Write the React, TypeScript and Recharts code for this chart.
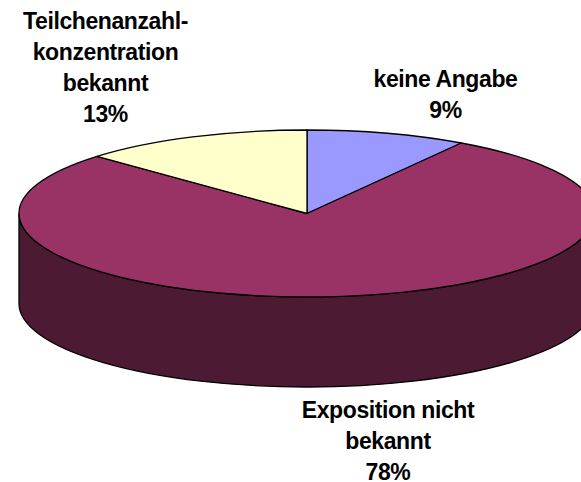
import { PieChart, Pie } from 'recharts'

const categories = ['keine Angabe', 'Exposition nicht bekannt', 'Teilchenanzahlkonzentration bekannt']
const shares = [9, 78, 13]
const topColors = ['#9999FF', '#993366', '#FFFFCC']
const labelLines = [
  ['keine Angabe', '9%'],
  ['Exposition nicht', 'bekannt', '78%'],
  ['Teilchenanzahl-', 'konzentration', 'bekannt', '13%'],
]

// where each label block sits: centre x, first baseline
const labelCenterX = [445.5, 388, 105.5]
const labelTopY = [87, 418, 29]
const LINE_GAP = 31

const SQUASH = 83.5 / 288
const DEPTH = 90
const SIDE_COLOR = '#4D1A33'

const data = categories.map((name, i) => ({ name, value: shares[i], fill: topColors[i] }))

const rad = (deg: number) => (deg * Math.PI) / 180

// pie sector flattened to an ellipse, with its wall where it faces the viewer
function TiltedSector(props: any) {
  const { cx, cy, outerRadius, startAngle, endAngle, fill } = props
  const rx = outerRadius
  const ry = outerRadius * SQUASH
  const px = (a: number) => cx + rx * Math.cos(rad(a))
  const py = (a: number) => cy - ry * Math.sin(rad(a))
  const large = Math.abs(startAngle - endAngle) > 180 ? 1 : 0

  const top = `M${cx},${cy} L${px(startAngle)},${py(startAngle)} A${rx},${ry} 0 ${large} 1 ${px(endAngle)},${py(endAngle)} Z`

  // the front half runs from 0 to -180 going clockwise
  const wallStart = Math.min(startAngle, 0)
  const wallEnd = Math.max(endAngle, -180)
  const hasWall = wallStart > wallEnd
  const wall = hasWall
    ? `M${px(wallStart)},${py(wallStart)} L${px(wallStart)},${py(wallStart) + DEPTH} A${rx},${ry} 0 0 1 ${px(wallEnd)},${py(wallEnd) + DEPTH} L${px(wallEnd)},${py(wallEnd)} A${rx},${ry} 0 0 0 ${px(wallStart)},${py(wallStart)} Z`
    : ''

  return (
    <g>
      {hasWall && <path d={wall} fill={SIDE_COLOR} stroke="#000" strokeWidth={1.3} />}
      <path d={top} fill={fill} stroke="#000" strokeWidth={1.3} strokeLinejoin="round" />
    </g>
  )
}

function renderLabel({ index }: any) {
  return (
    <text
      key={index}
      textAnchor="middle"
      fontFamily="Liberation Sans, Arial, sans-serif"
      fontWeight="bold"
      fontSize={23}
      letterSpacing={-0.4}
      fill="#000"
    >
      {labelLines[index].map((line, i) => (
        <tspan key={line} x={labelCenterX[index]} y={labelTopY[index] + i * LINE_GAP}>
          {line}
        </tspan>
      ))}
    </text>
  )
}

export default function App() {
  return (
    <div style={{ position: 'absolute', left: 0, top: 0, width: 581, height: 482 }}>
      <PieChart width={581} height={482} margin={{ top: 0, right: 0, bottom: 0, left: 0 }}>
        <Pie
          data={data}
          dataKey="value"
          nameKey="name"
          cx={307}
          cy={213.5}
          innerRadius={0}
          outerRadius={288}
          startAngle={90}
          endAngle={-270}
          paddingAngle={0}
          shape={TiltedSector}
          label={renderLabel}
          labelLine={false}
          isAnimationActive={false}
        />
      </PieChart>
    </div>
  )
}
